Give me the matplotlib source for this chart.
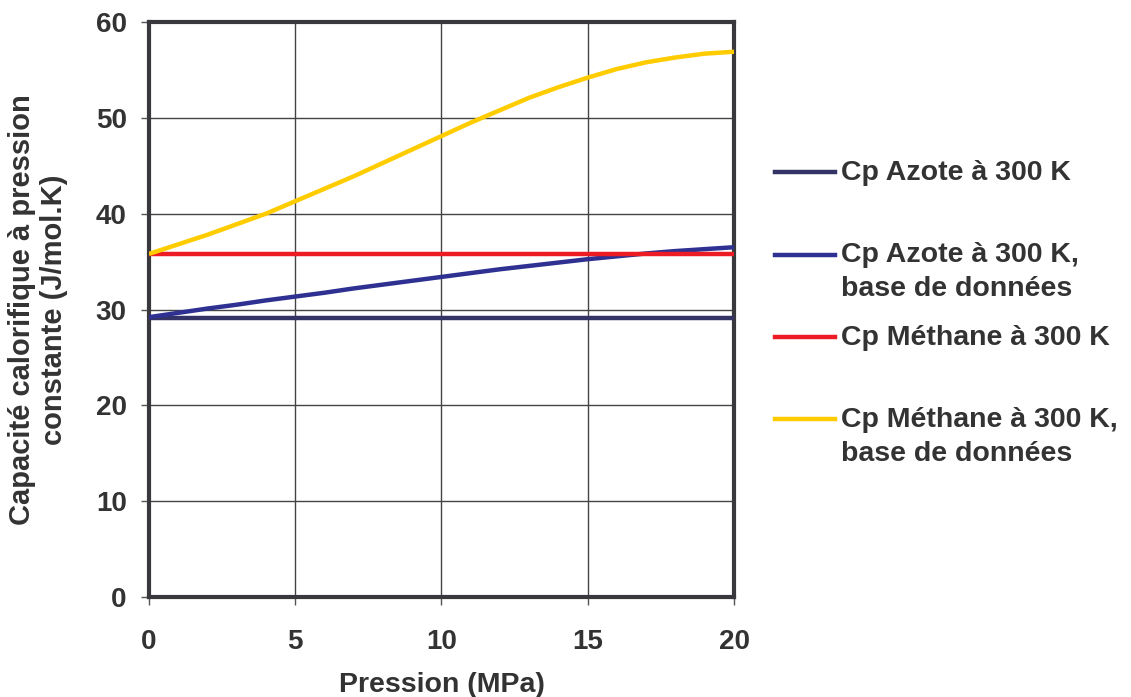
import numpy as np
import matplotlib
matplotlib.use("Agg")
import matplotlib.pyplot as plt
from matplotlib.lines import Line2D

plt.rcParams['font.family'] = ['Liberation Sans', 'DejaVu Sans']
plt.rcParams['font.weight'] = 'bold'

# pressure (MPa)
p = np.arange(0, 21)
# Cp values (J/mol.K)
azote = [29.1] * 21
azote_db = [29.2, 29.65, 30.1, 30.5, 30.95, 31.35, 31.75, 32.2, 32.6, 33.0, 33.4,
            33.8, 34.2, 34.55, 34.9, 35.25, 35.55, 35.85, 36.1, 36.3, 36.5]
methane = [35.8] * 21
methane_db = [35.8, 36.8, 37.8, 38.9, 40.0, 41.3, 42.6, 43.9, 45.3, 46.7, 48.1,
              49.5, 50.8, 52.1, 53.2, 54.2, 55.1, 55.8, 56.3, 56.7, 56.9]

labels = ["Cp Azote à 300 K",
          "Cp Azote à 300 K,\nbase de données",
          "Cp Méthane à 300 K",
          "Cp Méthane à 300 K,\nbase de données"]
colors = ['#333366', '#2e3192', '#ed1c24', '#ffcc00']
txt = '#333333'

fig = plt.figure(figsize=(11.31, 6.97), dpi=100)
ax = fig.add_axes([0.1317, 0.1435, 0.5173, 0.8249])

for y, c in zip([azote, azote_db, methane, methane_db], colors):
    ax.plot(p, y, color=c, lw=3.2, solid_capstyle='butt', zorder=3)

ax.set_xlim(0, 20)
ax.set_ylim(0, 60)
ax.set_xticks([0, 5, 10, 15, 20])
ax.set_yticks(range(0, 61, 10))
ax.grid(True, color='#444444', lw=1)
for s in ax.spines.values():
    s.set_linewidth(3)
    s.set_color('#38383d')
ax.tick_params(labelsize=20, colors=txt, length=6, width=1)
ax.tick_params(axis='y', pad=10)
ax.tick_params(axis='x', pad=17)
ax.tick_params(color='#555555')
for lab in ax.get_xticklabels() + ax.get_yticklabels():
    lab.set_fontweight('bold')

ax.set_xlabel("Pression (MPa)", fontsize=20.5, fontweight='bold', color=txt, labelpad=12)
ax.set_ylabel("Capacité calorifique à pression\nconstante (J/mol.K)", fontsize=21,
              fontweight='bold', color=txt, labelpad=20, linespacing=1.2)

# legend drawn as in the source: evenly spaced handles, text aligned to first line
x0, x1 = 775 / 1131, 835 / 1131
for i, (lab, c) in enumerate(zip(labels, colors)):
    yy = 1 - (172 + i * 82.5) / 697
    fig.add_artist(Line2D([x0, x1], [yy, yy], color=c, lw=3.2, transform=fig.transFigure))
    fig.text(x1 + 0.005, yy + 12 / 697, lab, fontsize=20.5, fontweight='bold',
             color=txt, va='top', ha='left', linespacing=1.4)

fig.savefig('out.png', dpi=100)
